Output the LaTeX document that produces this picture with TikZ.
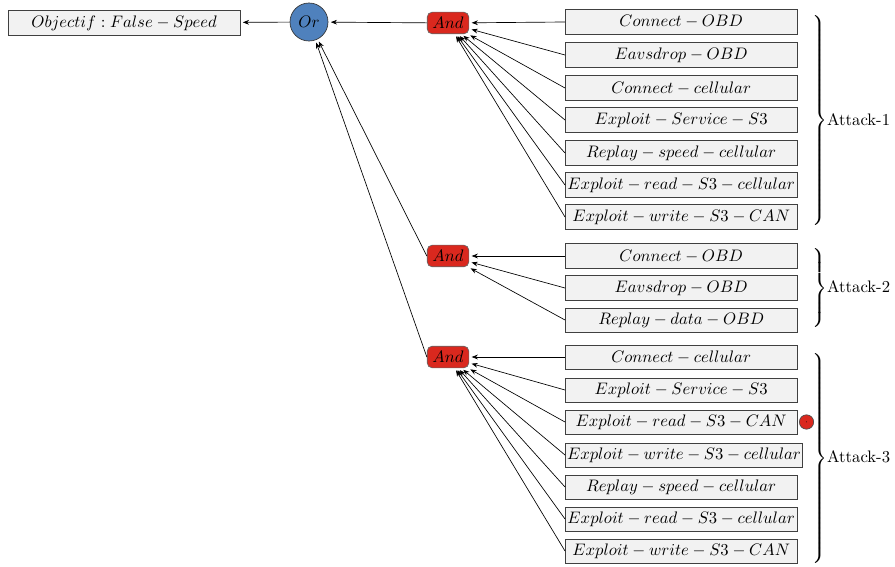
\documentclass[tikz,border=0pt]{standalone}
\usepackage{amsmath}
\usepackage{tikz}
\usepackage{xcolor}
\usetikzlibrary{arrows.meta,positioning}

\definecolor{andred}{RGB}{218,40,30}
\definecolor{orblue}{RGB}{79,129,189}
\definecolor{leafgray}{RGB}{242,242,242}

\begin{document}
\begin{tikzpicture}[x=0.6pt, y=-0.6pt,
leaf/.style={draw=black!75, fill=leafgray, anchor=west, align=center, minimum width=139pt, minimum height=14.6pt, inner sep=1pt},
andgate/.style={draw=black!60, fill=andred, rounded corners=3pt, minimum width=25pt, minimum height=13pt, inner sep=1pt},
orgate/.style={draw=black!80, fill=orblue, circle, minimum size=22.8pt, inner sep=0pt},
attack/.style={anchor=west, inner sep=0pt},
arrow/.style={-{Stealth[length=1.3mm, width=1mm]}, shorten >=1.5pt}
]
\useasboundingbox (0,0) rectangle (895,567);

% goal and gates
\node[leaf, minimum height=15.4pt] (goal) at (8,23) {$Objectif:False-Speed$};
\node[orgate] (or) at (309,22) {$Or$};
\node[andgate] (and1) at (448,23) {$And$};
\node[andgate] (and2) at (448,256) {$And$};
\node[andgate] (and3) at (448,357) {$And$};

% attack 1
\node[leaf] (a1) at (565,22) {$Connect-OBD$};
\node[leaf] (a2) at (565,55) {$Eavsdrop-OBD$};
\node[leaf] (a3) at (565,88) {$Connect-cellular$};
\node[leaf] (a4) at (565,120) {$Exploit-Service-S3$};
\node[leaf] (a5) at (565,153) {$Replay-speed-cellular$};
\node[leaf] (a6) at (565,185) {$Exploit-read-S3-cellular$};
\node[leaf] (a7) at (565,217) {$Exploit-write-S3-CAN$};

% attack 2
\node[leaf] (b1) at (565,256) {$Connect-OBD$};
\node[leaf] (b2) at (565,288) {$Eavsdrop-OBD$};
\node[leaf] (b3) at (565,320) {$Replay-data-OBD$};

% attack 3
\node[leaf] (c1) at (565,357) {$Connect-cellular$};
\node[leaf] (c2) at (565,390) {$Exploit-Service-S3$};
\node[leaf] (c3) at (565,422) {$Exploit-read-S3-CAN$};
\node[leaf] (c4) at (565,455) {$Exploit-write-S3-cellular$};
\node[leaf] (c5) at (565,487) {$Replay-speed-cellular$};
\node[leaf] (c6) at (565,519) {$Exploit-read-S3-cellular$};
\node[leaf] (c7) at (565,551) {$Exploit-write-S3-CAN$};

\node[circle, draw=black!70, fill=andred, minimum size=8.6pt, inner sep=0pt, right=1pt of c3] (mark) {\tiny$\cdot$};

% braces
\node[attack] (att1) at (810,121) {$\left.\vcenter{\hrule height 128pt width 0pt}\right\}$Attack-1};
\node[attack] (att2) at (810,288) {$\left.\vcenter{\hrule height 52pt width 0pt}\right\}$Attack-2};
\node[attack] (att3) at (810,458) {$\left.\vcenter{\hrule height 131pt width 0pt}\right\}$Attack-3};

% connectors
\draw[arrow] (or) -- (goal);
\draw[arrow] (and1) -- (or);
\draw[arrow] (and2.west) -- (or);
\draw[arrow] (and3.west) -- (or);

\draw[arrow] (a1.west) -- (and1);
\draw[arrow] (a2.west) -- (and1);
\draw[arrow] (a3.west) -- (and1);
\draw[arrow] (a4.west) -- (and1);
\draw[arrow] (a5.west) -- (and1);
\draw[arrow] (a6.west) -- (and1);
\draw[arrow] (a7.west) -- (and1);

\draw[arrow] (b1.west) -- (and2);
\draw[arrow] (b2.west) -- (and2);
\draw[arrow] (b3.west) -- (and2);

\draw[arrow] (c1.west) -- (and3);
\draw[arrow] (c2.west) -- (and3);
\draw[arrow] (c3.west) -- (and3);
\draw[arrow] (c4.west) -- (and3);
\draw[arrow] (c5.west) -- (and3);
\draw[arrow] (c6.west) -- (and3);
\draw[arrow] (c7.west) -- (and3);
\end{tikzpicture}
\end{document}
